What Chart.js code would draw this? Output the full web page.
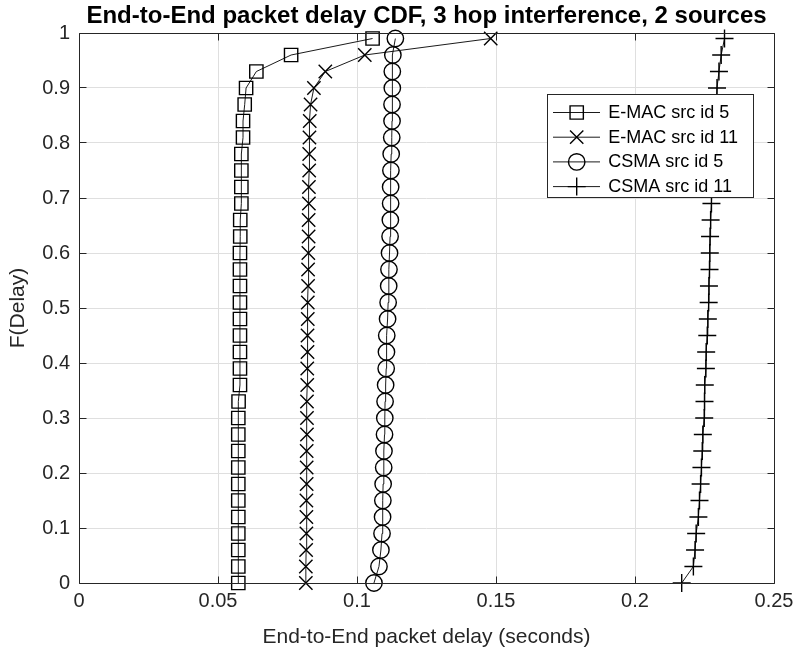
<!DOCTYPE html>
<html>
<head>
<meta charset="utf-8">
<script src="https://cdn.jsdelivr.net/npm/chart.js@4.4.0/dist/chart.umd.min.js"></script>
<style>
  html, body { margin: 0; padding: 0; background: #fff; }
  #wrap { width: 795px; height: 657px; }
</style>
</head>
<body>
<div id="wrap"><canvas id="cdf" width="795" height="657"></canvas></div>
<script>
// CDF levels (y) shared by all four curves
const cdfLevels = [0, 0.03, 0.06, 0.09, 0.12, 0.15, 0.18, 0.21, 0.24, 0.27, 0.30, 0.33,
  0.36, 0.39, 0.42, 0.45, 0.48, 0.51, 0.54, 0.57, 0.60, 0.63, 0.66, 0.69, 0.72, 0.75,
  0.78, 0.81, 0.84, 0.87, 0.90, 0.93, 0.96, 0.99];

// end-to-end delay in seconds at each level
const emacSrc5Delay = [0.0573, 0.0573, 0.0573, 0.0573, 0.0573, 0.0573, 0.0573, 0.0573, 0.0573,
  0.0573, 0.0573, 0.0574, 0.0579, 0.0579, 0.0579, 0.0579, 0.0579, 0.0579, 0.0579, 0.0579,
  0.0579, 0.0580, 0.0580, 0.0584, 0.0584, 0.0584, 0.0584, 0.0590, 0.0590, 0.0596, 0.0601,
  0.0638, 0.0763, 0.1056];
const emacSrc11Delay = [0.0816, 0.0816, 0.0817, 0.0818, 0.0818, 0.0818, 0.0819, 0.0819, 0.0819,
  0.0820, 0.0820, 0.0820, 0.0821, 0.0821, 0.0822, 0.0822, 0.0823, 0.0823, 0.0824, 0.0824,
  0.0825, 0.0826, 0.0826, 0.0827, 0.0827, 0.0828, 0.0828, 0.0829, 0.0830, 0.0833, 0.0845,
  0.0886, 0.1028, 0.1481];
const csmaSrc5Delay = [0.1061, 0.1079, 0.1086, 0.1090, 0.1092, 0.1093, 0.1094, 0.1096, 0.1097,
  0.1099, 0.1100, 0.1101, 0.1103, 0.1105, 0.1106, 0.1107, 0.1110, 0.1112, 0.1114, 0.1115,
  0.1117, 0.1119, 0.1120, 0.1121, 0.1121, 0.1122, 0.1123, 0.1125, 0.1126, 0.1126, 0.1127,
  0.1127, 0.1129, 0.1138];
const csmaSrc11Delay = [0.2168, 0.2210, 0.2216, 0.2220, 0.2228, 0.2232, 0.2236, 0.2239, 0.2242,
  0.2244, 0.2249, 0.2250, 0.2251, 0.2255, 0.2256, 0.2260, 0.2262, 0.2265, 0.2266, 0.2268,
  0.2269, 0.2270, 0.2272, 0.2275, 0.2277, 0.2280, 0.2283, 0.2286, 0.2289, 0.2292, 0.2295,
  0.2302, 0.2310, 0.2322];

const seriesNames = ['E-MAC src id 5', 'E-MAC src id 11', 'CSMA src id 5', 'CSMA src id 11'];
const xTickLabels = ['0', '0.05', '0.1', '0.15', '0.2', '0.25'];
const yTickLabels = ['0', '0.1', '0.2', '0.3', '0.4', '0.5', '0.6', '0.7', '0.8', '0.9', '1'];

const FONT = '"Liberation Sans", Arial, Helvetica, sans-serif';
const AXIS_GRAY = '#262626';

function toPoints(delays) {
  return delays.map((d, i) => ({ x: d, y: cdfLevels[i] }));
}

function series(label, delays, style, radius) {
  return {
    label: label,
    data: toPoints(delays),
    borderColor: '#000',
    borderWidth: 0.9,
    pointStyle: style,
    pointRadius: radius,
    pointHoverRadius: radius,
    pointBorderColor: '#000',
    pointBackgroundColor: 'rgba(0,0,0,0)',
    pointBorderWidth: 1.4,
    tension: 0,
    clip: false
  };
}

const al = p => Math.round(p - 0.5) + 0.5;

// box around the axes with inward tick marks, like the original figure
const axesFrame = {
  id: 'axesFrame',
  afterDatasetsDraw(chart) {
    const { ctx, chartArea: a, scales } = chart;
    const L = al(a.left), R = al(a.right), T = al(a.top), B = al(a.bottom);
    const tl = 7;
    ctx.save();
    ctx.strokeStyle = AXIS_GRAY;
    ctx.lineWidth = 1;
    ctx.beginPath();
    ctx.rect(L, T, R - L, B - T);
    scales.x.ticks.forEach(t => {
      const px = al(scales.x.getPixelForValue(t.value));
      ctx.moveTo(px, B); ctx.lineTo(px, B - tl);
      ctx.moveTo(px, T); ctx.lineTo(px, T + tl);
    });
    scales.y.ticks.forEach(t => {
      const py = al(scales.y.getPixelForValue(t.value));
      ctx.moveTo(L, py); ctx.lineTo(L + tl, py);
      ctx.moveTo(R, py); ctx.lineTo(R - tl, py);
    });
    ctx.stroke();
    ctx.restore();
  }
};

// MATLAB-style legend: line sample with marker, opaque box
const legendBox = {
  id: 'legendBox',
  afterDatasetsDraw(chart) {
    const { ctx, chartArea: a } = chart;
    const bx = Math.round(a.right - 227), by = Math.round(a.top + 61), bw = 206, bh = 103;
    ctx.save();
    ctx.fillStyle = '#fff';
    ctx.fillRect(bx, by, bw, bh);
    ctx.strokeStyle = AXIS_GRAY;
    ctx.lineWidth = 1;
    ctx.strokeRect(bx + 0.5, by + 0.5, bw, bh);
    chart.data.datasets.forEach((ds, i) => {
      const cy = by + 18.5 + i * 24.7;
      ctx.strokeStyle = '#000';
      ctx.lineWidth = ds.borderWidth;
      ctx.beginPath();
      ctx.moveTo(bx + 6, cy);
      ctx.lineTo(bx + 53, cy);
      ctx.stroke();
      ctx.fillStyle = 'rgba(0,0,0,0)';
      ctx.lineWidth = ds.pointBorderWidth;
      Chart.helpers.drawPoint(ctx, {
        pointStyle: ds.pointStyle, radius: ds.pointRadius, rotation: 0, borderWidth: ds.pointBorderWidth
      }, bx + 29.7, cy);
      ctx.fillStyle = '#000';
      ctx.font = '18px ' + FONT;
      ctx.textAlign = 'left';
      ctx.textBaseline = 'middle';
      ctx.fillText(ds.label, bx + 61.3, cy + 0.5);
    });
    ctx.restore();
  }
};

Chart.defaults.font.family = FONT;
Chart.defaults.color = AXIS_GRAY;

new Chart(document.getElementById('cdf').getContext('2d'), {
  type: 'line',
  data: {
    datasets: [
      series(seriesNames[0], emacSrc5Delay, 'rect', 9.4),
      series(seriesNames[1], emacSrc11Delay, 'crossRot', 9.4),
      series(seriesNames[2], csmaSrc5Delay, 'circle', 8.2),
      series(seriesNames[3], csmaSrc11Delay, 'cross', 9)
    ]
  },
  options: {
    responsive: false,
    animation: false,
    devicePixelRatio: 1,
    layout: { padding: { left: 0, right: 21, top: 0, bottom: 0 } },
    plugins: {
      legend: { display: false },
      tooltip: { enabled: false },
      title: {
        display: true,
        fullSize: false,
        text: 'End-to-End packet delay CDF, 3 hop interference, 2 sources',
        color: '#000',
        font: { size: 24, weight: 'bold', lineHeight: 1.2 },
        padding: { top: 2, bottom: 2.2 }
      }
    },
    scales: {
      x: {
        type: 'linear',
        min: 0,
        max: 0.25,
        afterFit: s => { s.height = 74; s.paddingLeft = 0; s.paddingRight = 0; },
        border: { display: false },
        grid: { color: '#dfdfdf', lineWidth: 1, drawTicks: false },
        ticks: {
          stepSize: 0.05,
          padding: 6,
          maxRotation: 0,
          font: { size: 20 },
          callback: (v, i) => xTickLabels[i]
        },
        title: {
          display: true,
          text: 'End-to-End packet delay (seconds)',
          font: { size: 21 },
          padding: { top: 0, bottom: 7.4 }
        }
      },
      y: {
        type: 'linear',
        min: 0,
        max: 1,
        afterFit: s => { s.width = 79; s.paddingTop = 0; s.paddingBottom = 0; },
        border: { display: false },
        grid: { color: '#dfdfdf', lineWidth: 1, drawTicks: false },
        ticks: {
          stepSize: 0.1,
          padding: 9,
          font: { size: 20 },
          callback: (v, i) => yTickLabels[i]
        },
        title: {
          display: true,
          text: 'F(Delay)',
          font: { size: 21 },
          padding: { top: 5.4, bottom: 0 }
        }
      }
    }
  },
  plugins: [axesFrame, legendBox]
});
</script>
</body>
</html>
